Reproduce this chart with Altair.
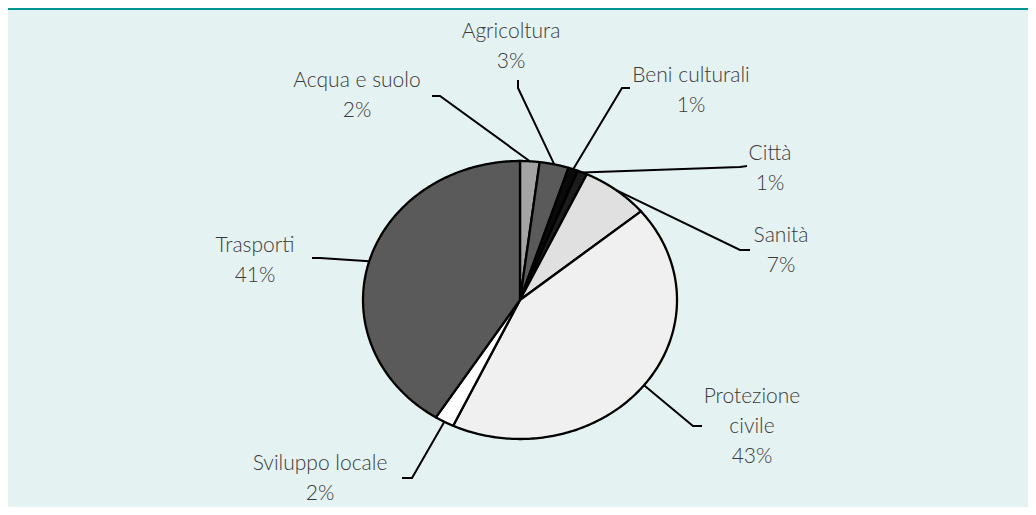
import altair as alt
import pandas as pd

# ---- data (clockwise from 12 o'clock) ----
categories = ["Acqua e suolo", "Agricoltura", "Beni culturali", "Città",
              "Sanità", "Protezione civile", "Sviluppo locale", "Trasporti"]
values = [2, 3, 1, 1, 7, 43, 2, 41]
colors = ["#A4A4A4", "#5A5A5A", "#0A0A0A", "#1C1C1C",
          "#E0E0E0", "#F0F0F0", "#FFFFFF", "#5A5A5A"]

# ---- label layout (pixels relative to the pie centre, y up) ----
label_lines = ["Acqua e suolo", "Agricoltura", "Beni culturali", "Città",
               "Sanità", "Protezione\ncivile", "Sviluppo locale", "Trasporti"]
text_dx = [-163, -9, 171, 250, 261, 232, -200, -265]
text_dy = [213, 262, 218, 140, 58, -103, -170, 48]
elbow_dx = [-80, -2, 102, 220, 220, 173, -108, -200]
elbow_dy = [204, 212, 212, 133, 50, -126, -178, 42]
end_dx = [-88, -2, 110, 227, 230, 182, -118, -208]
end_dy = [204, 220, 212, 134, 50, -126, -178, 42]

RX, RY = 157, 139
N = 180
W, H = 1020, 499

df = pd.DataFrame({
    "category": categories,
    "value": values,
    "order": list(range(len(categories))),
    "label": [f"{n}\n{v}%" for n, v in zip(label_lines, values)],
    "tdx": text_dx, "tdy": text_dy,
    "edx": elbow_dx, "edy": elbow_dy,
    "qdx": end_dx, "qdy": end_dy,
})

xs = alt.Scale(domain=[-512, 508], nice=False, zero=False)
ys = alt.Scale(domain=[-207, 292], nice=False, zero=False)
fill_scale = alt.Scale(domain=categories, range=colors)

base = (
    alt.Chart(df)
    .transform_joinaggregate(total="sum(value)")
    .transform_window(cum="sum(value)", sort=[alt.SortField("order")], frame=[None, 0])
    .transform_calculate(
        a0="2*PI*(datum.cum-datum.value)/datum.total",
        a1="2*PI*datum.cum/datum.total",
    )
    .transform_calculate(amid="(datum.a0+datum.a1)/2")
)

slices = (
    base.transform_calculate(t=f"sequence(-1, {N + 2})")
    .transform_flatten(["t"])
    .transform_calculate(
        ang=f"datum.a0 + (datum.a1-datum.a0)*clamp(datum.t,0,{N})/{N}"
    )
    .transform_calculate(
        px=f"(datum.t<0 || datum.t>{N}) ? 0 : {RX}*sin(datum.ang)",
        py=f"(datum.t<0 || datum.t>{N}) ? 0 : {RY}*cos(datum.ang)",
    )
    .mark_line(stroke="black", strokeWidth=2.3, strokeJoin="round")
    .encode(
        x=alt.X("px:Q", scale=xs, axis=None),
        y=alt.Y("py:Q", scale=ys, axis=None),
        fill=alt.Fill("category:N", scale=fill_scale, legend=None),
        detail="category:N",
        order="t:Q",
    )
)

leaders = (
    base.transform_calculate(k="sequence(0, 3)")
    .transform_flatten(["k"])
    .transform_calculate(
        lx=f"datum.k==0 ? {RX}*sin(datum.amid) : (datum.k==1 ? datum.edx : datum.qdx)",
        ly=f"datum.k==0 ? {RY}*cos(datum.amid) : (datum.k==1 ? datum.edy : datum.qdy)",
    )
    .mark_line(color="black", strokeWidth=2)
    .encode(
        x=alt.X("lx:Q", scale=xs, axis=None),
        y=alt.Y("ly:Q", scale=ys, axis=None),
        detail="category:N",
        order="k:Q",
    )
)

labels = (
    alt.Chart(df)
    .mark_text(align="center", baseline="alphabetic", font="Lato", fontWeight=300,
               fontSize=21, lineHeight=30, color="#3A3A3A", lineBreak="\n")
    .encode(
        x=alt.X("tdx:Q", scale=xs, axis=None),
        y=alt.Y("tdy:Q", scale=ys, axis=None),
        text="label:N",
    )
)

bar = (
    alt.Chart(pd.DataFrame({"a": [0]}))
    .mark_rect(color="#00968F")
    .encode(x=alt.value(0), x2=alt.value(W), y=alt.value(0), y2=alt.value(2))
)

chart = (
    alt.layer(bar, slices, leaders, labels)
    .properties(width=W, height=H, padding=0, autosize="none", background="#E5F2F2")
    .configure_view(stroke=None)
)

chart.save("out.html", embed_options={"renderer": "svg", "actions": False})
